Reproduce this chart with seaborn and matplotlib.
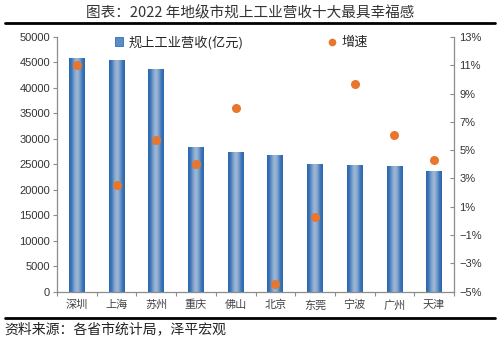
import numpy as np
import pandas as pd
import matplotlib
matplotlib.use("Agg")
import matplotlib.pyplot as plt
from matplotlib.colors import LinearSegmentedColormap
from matplotlib.patches import Patch
from matplotlib.lines import Line2D
import seaborn as sns

cities = ["深圳", "上海", "苏州", "重庆", "佛山", "北京", "东莞", "宁波", "广州", "天津"]
revenue = [45900, 45400, 43800, 28300, 27400, 26900, 25000, 24900, 24700, 23600]
growth = [11.0, 2.5, 5.7, 4.0, 8.0, -4.5, 0.3, 9.7, 6.1, 4.3]
left_ticks = [0, 5000, 10000, 15000, 20000, 25000, 30000, 35000, 40000, 45000, 50000]
right_ticks = [-5, -3, -1, 1, 3, 5, 7, 9, 11, 13]

df = pd.DataFrame({"city": cities, "revenue": revenue, "growth": growth})

sns.set_theme(style="white")
plt.rcParams["font.family"] = ["Liberation Sans", "Noto Sans CJK SC", "DejaVu Sans"]
cjk = ["Noto Sans CJK SC", "DejaVu Sans"]

fig = plt.figure(figsize=(5.0, 3.39), dpi=100)
ax = fig.add_axes([0.114, 0.140, 0.794, 0.751])

bar_dark = "#2F6DB5"
sns.barplot(data=df, x="city", y="revenue", ax=ax, color=bar_dark, width=0.4,
            saturation=1, linewidth=0, zorder=2)

# horizontal shading across each bar: dark edges, lighter centre
shade = LinearSegmentedColormap.from_list(
    "barshade", ["#2A64AC", "#3F78BA", "#7FA3CC", "#A3BAD6", "#7FA3CC", "#3F78BA", "#2A64AC"])
grad = np.linspace(0, 1, 64).reshape(1, -1)
for p in ax.patches:
    x0, w, h = p.get_x(), p.get_width(), p.get_height()
    im = ax.imshow(grad, cmap=shade, aspect="auto", extent=[x0, x0 + w, 0, h],
                   zorder=2.5, interpolation="bicubic")
    im.set_clip_path(p)

ax.set_xlim(-0.5, len(cities) - 0.5)
ax.set_ylim(0, 50000)
ax.set_yticks(left_ticks)
ax.set_yticklabels([str(v) for v in left_ticks])
ax.set_xlabel("")
ax.set_ylabel("")

ax2 = ax.twinx()
sns.stripplot(data=df, x="city", y="growth", ax=ax2, jitter=False, color="#E8762C",
              size=6.5, linewidth=0, zorder=3)
ax2.set_xlim(-0.5, len(cities) - 0.5)
ax2.set_ylim(-5, 13)
ax2.set_yticks(right_ticks)
ax2.set_yticklabels([f"{v}%".replace("-", "\u2212") for v in right_ticks])
ax2.set_ylabel("")
ax2.set_xlabel("")

spine_c = "#8C8C8C"
for a in (ax, ax2):
    a.spines["top"].set_visible(False)
    for s in ("left", "right", "bottom"):
        a.spines[s].set_color(spine_c)
        a.spines[s].set_linewidth(0.9)
    a.grid(False)

ax.spines["right"].set_visible(False)
ax2.spines["left"].set_visible(False)
ax2.spines["bottom"].set_visible(False)

ax.tick_params(axis="y", direction="out", length=3, width=0.8, color=spine_c,
               labelsize=8, labelcolor="#333333", pad=2, left=True)
ax2.tick_params(axis="y", direction="in", length=3, width=0.8, color=spine_c,
                labelsize=8, labelcolor="#333333", pad=4, right=True)

# category labels centred under the bars, ticks between categories
ax.set_xticks(range(len(cities)))
ax.set_xticklabels(cities, fontsize=8, color="#444444", family=cjk)
ax.set_xticks(np.arange(-0.5, len(cities), 1.0), minor=True)
ax.tick_params(axis="x", which="major", length=0, pad=6)
ax.tick_params(axis="x", which="minor", direction="out", length=3, width=0.8,
               color=spine_c, bottom=True)

handles = [
    Patch(facecolor="#5B8CC6", edgecolor="#2F6DB5", linewidth=0.6),
    Line2D([0], [0], marker="o", linestyle="none", markersize=5.5,
           markerfacecolor="#E8762C", markeredgewidth=0),
]
fig.legend(handles, ["规上工业营收(亿元)", "增速"], loc="center",
           bbox_to_anchor=(0.483, 0.875), ncol=2, frameon=False,
           columnspacing=6.4, handlelength=0.6, handleheight=0.6,
           handletextpad=0.4, prop={"family": cjk, "size": 9.5})

fig.text(0.5, 0.962, "图表：2022 年地级市规上工业营收十大最具幸福感", ha="center", va="center",
         fontsize=10.5, color="#333333", family=cjk)
fig.add_artist(Line2D([0.01, 0.99], [0.933, 0.933], color="black", linewidth=2.0,
                      transform=fig.transFigure))
fig.add_artist(Line2D([0.01, 0.99], [0.062, 0.062], color="black", linewidth=2.0,
                      transform=fig.transFigure))
fig.text(0.008, 0.030, "资料来源：各省市统计局，泽平宏观", ha="left", va="center",
         fontsize=10, color="#222222", style="italic", family=cjk)

fig.savefig("out.png", dpi=100)
